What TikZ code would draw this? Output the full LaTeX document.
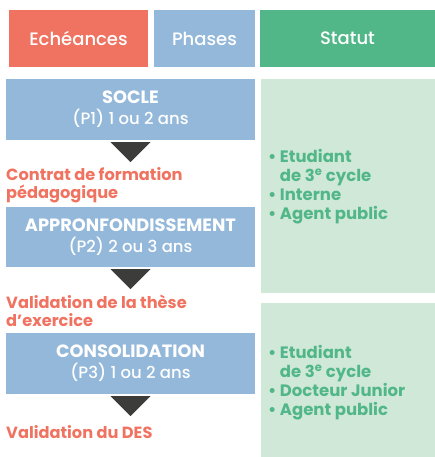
\documentclass[tikz,border=0pt]{standalone}
\usepackage{fontspec}
\IfFontExistsTF{Poppins Medium}
  {\setmainfont{Poppins Medium}[BoldFont=Poppins Bold]}
  {\setmainfont{Poppins}}
\definecolor{echeance}{HTML}{F07361}
\definecolor{phase}{HTML}{93B8D9}
\definecolor{statut}{HTML}{52B788}
\definecolor{statutbg}{HTML}{D0E8D8}
\definecolor{arrowgray}{HTML}{3C3C3B}
\newcommand{\phasetitle}[1]{{\bfseries\fontsize{17.8}{21}\selectfont #1}}
\begin{document}
\begin{tikzpicture}[x=1pt,y=-1pt,
    head/.style={fill=#1, text=white, minimum height=57pt, inner sep=0pt,
      font=\fontsize{18}{24}\selectfont},
    phasebox/.style={fill=phase, text=white, minimum width=249pt, inner sep=0pt,
      align=center, font=\fontsize{16.5}{21}\selectfont},
    panel/.style={fill=statutbg, minimum width=174pt, inner sep=0pt},
    echtext/.style={anchor=west, text=echeance, align=left, inner sep=0pt,
      font=\bfseries\fontsize{16.2}{18}\selectfont},
    stattext/.style={anchor=west, text=statut, align=left, inner sep=0pt,
      font=\bfseries\fontsize{16.5}{19}\selectfont},
    tri/.style={fill=arrowgray}]
  \useasboundingbox (0,0) rectangle (435,457);

  % en-tetes
  \node[head=echeance, minimum width=139pt] (hech) at (78.5,38.5) {Echéances};
  \node[head=phase, minimum width=101pt] (hphase) at (204.5,38.5) {Phases};
  \node[head=statut, minimum width=175pt] (hstat) at (347.5,38.5) {Statut};

  % phases
  \node[phasebox, minimum height=61pt] (socle) at (130.5,109.5)
    {\phasetitle{SOCLE}\\(P1) 1 ou 2 ans};
  \node[phasebox, minimum height=60pt] (appro) at (130.5,237)
    {\phasetitle{APPRONFONDISSEMENT}\\(P2) 2 ou 3 ans};
  \node[phasebox, minimum height=61pt] (conso) at (130.5,363.5)
    {\phasetitle{CONSOLIDATION}\\(P3) 1 ou 2 ans};

  % fleches
  \foreach \ph in {socle,appro,conso}
    \fill[tri] ([xshift=-20pt,yshift=-2pt]\ph.south) -- ++(40,0) -- ++(-20,20) -- cycle;

  % echeances
  \node[echtext] (contrat) at (6,185) {Contrat de formation\\pédagogique};
  \node[echtext] (these) at (6,311) {Validation de la thèse\\d’exercice};
  \node[echtext] (des) at (6,432) {Validation du DES};

  % statuts
  \node[panel, minimum height=214pt] (panelA) at (348,186) {};
  \node[panel, minimum height=154pt] (panelB) at (348,380) {};
  \node[stattext] (statA) at (268,186.5)
    {• Etudiant\\\phantom{• }de 3\textsuperscript{e} cycle\\• Interne\\• Agent public};
  \node[stattext] (statB) at (268,383)
    {• Etudiant\\\phantom{• }de 3\textsuperscript{e} cycle\\• Docteur Junior\\• Agent public};
\end{tikzpicture}
\end{document}
